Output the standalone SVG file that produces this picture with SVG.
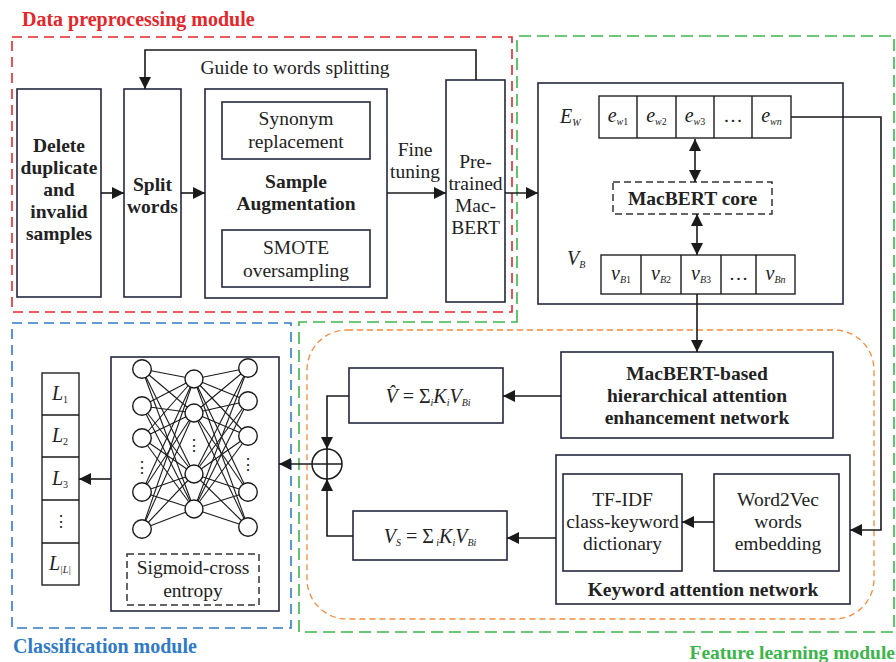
<svg xmlns="http://www.w3.org/2000/svg" width="896" height="662" viewBox="0 0 896 662">
<style>
text{font-family:"Liberation Serif","Times New Roman",serif;fill:#222;}
.b{font-weight:bold;font-size:19.5px;}
.r{font-size:19.5px;}
.mod{font-weight:bold;font-size:20px;}
.box{fill:#fff;stroke:#23263f;stroke-width:1.6;}
.dbox{fill:#fff;stroke:#333;stroke-width:1.5;stroke-dasharray:7,4;}
.cell{fill:#fff;stroke:#222;stroke-width:1.4;}
.ln{fill:none;stroke:#1a1a1a;stroke-width:1.6;}
.arr{fill:none;stroke:#1a1a1a;stroke-width:1.6;marker-end:url(#ah);}
.darr{fill:none;stroke:#1a1a1a;stroke-width:1.6;marker-end:url(#ah);marker-start:url(#ah);}
.m{font-style:italic;font-size:20px;}
.s{font-size:10px;}
.si{font-size:10px;font-style:italic;}
.nn line{stroke:#1a1a1a;stroke-width:1.1;}
.nn circle{fill:#fff;stroke:#1a1a1a;stroke-width:1.4;}
</style>
<defs>
<marker id="ah" viewBox="0 0 10 10" refX="10" refY="5" markerWidth="12" markerHeight="12" markerUnits="userSpaceOnUse" orient="auto-start-reverse">
<path d="M0,0 L10,5 L0,10 z" fill="#1a1a1a"/>
</marker>
</defs>
<rect width="896" height="662" fill="#fff"/>

<!-- module frames -->
<g id="modules">
<rect x="12" y="37" width="500" height="275" fill="none" stroke="#e5262a" stroke-width="1.6" stroke-dasharray="10,6"/>
<text x="22" y="26" class="mod" style="fill:#e5262a">Data preprocessing module</text>
<path d="M517,322 V36 H894 V632 H299 V322 Z" fill="none" stroke="#3cb54a" stroke-width="1.6" stroke-dasharray="12,6"/>
<text x="895" y="659" class="mod" text-anchor="end" style="fill:#3cb54a;font-size:19.5px">Feature learning module</text>
<rect x="12" y="323" width="279" height="305" fill="none" stroke="#2f7ac6" stroke-width="1.6" stroke-dasharray="10,6"/>
<text x="13" y="653" class="mod" style="fill:#2f7ac6">Classification module</text>
<rect x="307" y="330" width="567" height="289" rx="40" ry="40" fill="none" stroke="#f28c3a" stroke-width="1.3" stroke-dasharray="6,4"/>
</g>

<g id="delete">
<rect class="box" x="17" y="89" width="84" height="208"/>
<text class="b" text-anchor="middle" x="59" y="152">Delete</text>
<text class="b" text-anchor="middle" x="59" y="174">duplicate</text>
<text class="b" text-anchor="middle" x="59" y="196">and</text>
<text class="b" text-anchor="middle" x="59" y="218">invalid</text>
<text class="b" text-anchor="middle" x="59" y="240">samples</text>
</g>

<g id="split">
<rect class="box" x="124" y="89" width="57" height="208"/>
<text class="b" text-anchor="middle" x="152.5" y="191">Split</text>
<text class="b" text-anchor="middle" x="152.5" y="213">words</text>
</g>

<g id="augmentation">
<rect class="box" x="205" y="89" width="182" height="209"/>
<text class="b" text-anchor="middle" x="296" y="188">Sample</text>
<text class="b" text-anchor="middle" x="296" y="210">Augmentation</text>
</g>
<g id="synonym">
<rect class="box" x="222" y="102" width="148" height="57"/>
<text class="r" text-anchor="middle" x="296" y="125">Synonym</text>
<text class="r" text-anchor="middle" x="296" y="148">replacement</text>
</g>
<g id="smote">
<rect class="box" x="222" y="230" width="148" height="57"/>
<text class="r" text-anchor="middle" x="296" y="254">SMOTE</text>
<text class="r" text-anchor="middle" x="296" y="277">oversampling</text>
</g>

<g id="pretrained">
<rect class="box" x="446" y="80" width="59" height="222"/>
<text class="r" text-anchor="middle" x="475.5" y="168">Pre-</text>
<text class="r" text-anchor="middle" x="475.5" y="190">trained</text>
<text class="r" text-anchor="middle" x="475.5" y="212">Mac-</text>
<text class="r" text-anchor="middle" x="475.5" y="234">BERT</text>
</g>

<g id="macbert">
<rect class="box" x="538" y="83" width="305" height="221"/>
<text x="560" y="123"><tspan class="m">E</tspan><tspan class="si" dy="3">W</tspan></text>
<text x="567" y="265"><tspan class="m">V</tspan><tspan class="si" dy="3">B</tspan></text>
</g>
<g id="ew">
<rect class="cell" x="599" y="96" width="192" height="42"/>
<path class="ln" d="M637,96 V138 M676,96 V138 M714,96 V138 M752,96 V138" style="stroke-width:1.4"/>
<text x="618" y="122" text-anchor="middle"><tspan class="m">e</tspan><tspan class="si" dy="3">w</tspan><tspan class="s">1</tspan></text>
<text x="656.5" y="122" text-anchor="middle"><tspan class="m">e</tspan><tspan class="si" dy="3">w</tspan><tspan class="s">2</tspan></text>
<text x="695" y="122" text-anchor="middle"><tspan class="m">e</tspan><tspan class="si" dy="3">w</tspan><tspan class="s">3</tspan></text>
<text x="733" y="122" text-anchor="middle" class="r">…</text>
<text x="771.5" y="122" text-anchor="middle"><tspan class="m">e</tspan><tspan class="si" dy="3">wn</tspan></text>
</g>
<g id="core">
<rect class="dbox" x="613" y="182" width="159" height="32"/>
<text class="b" text-anchor="middle" x="692.5" y="205">MacBERT core</text>
</g>
<g id="vb">
<rect class="cell" x="601" y="255" width="194" height="39"/>
<path class="ln" d="M641,255 V294 M681,255 V294 M721,255 V294 M756,255 V294" style="stroke-width:1.4"/>
<text x="621" y="280" text-anchor="middle"><tspan class="m">v</tspan><tspan class="si" dy="3">B</tspan><tspan class="s">1</tspan></text>
<text x="661" y="280" text-anchor="middle"><tspan class="m">v</tspan><tspan class="si" dy="3">B</tspan><tspan class="s">2</tspan></text>
<text x="701" y="280" text-anchor="middle"><tspan class="m">v</tspan><tspan class="si" dy="3">B</tspan><tspan class="s">3</tspan></text>
<text x="738.5" y="280" text-anchor="middle" class="r">…</text>
<text x="775.5" y="280" text-anchor="middle"><tspan class="m">v</tspan><tspan class="si" dy="3">Bn</tspan></text>
</g>

<g id="hier">
<rect class="box" x="561" y="352" width="272" height="86"/>
<text class="b" text-anchor="middle" x="697" y="380">MacBERT-based</text>
<text class="b" text-anchor="middle" x="697" y="402">hierarchical attention</text>
<text class="b" text-anchor="middle" x="697" y="424">enhancement network</text>
</g>

<g id="keyword">
<rect class="box" x="556" y="455" width="294" height="149"/>
<text class="b" text-anchor="middle" x="703" y="596">Keyword attention network</text>
</g>
<g id="tfidf">
<rect class="box" x="563" y="474" width="119" height="97"/>
<text class="r" text-anchor="middle" x="622.5" y="506">TF-IDF</text>
<text class="r" text-anchor="middle" x="622.5" y="528">class-keyword</text>
<text class="r" text-anchor="middle" x="622.5" y="550">dictionary</text>
</g>
<g id="word2vec">
<rect class="box" x="714" y="474" width="125" height="97"/>
<text class="r" text-anchor="middle" x="778" y="506">Word2Vec</text>
<text class="r" text-anchor="middle" x="778" y="528">words</text>
<text class="r" text-anchor="middle" x="778" y="550">embedding</text>
</g>

<g id="vhat">
<rect class="box" x="349" y="368" width="154" height="55"/>
<text x="428" y="403" text-anchor="middle" style="font-size:20px"><tspan font-style="italic">V̂</tspan> = Σ<tspan class="si" dy="3">i</tspan><tspan font-style="italic" dy="-3">K</tspan><tspan class="si" dy="3">i</tspan><tspan font-style="italic" dy="-3">V</tspan><tspan class="si" dy="3">Bi</tspan></text>
</g>
<g id="vs">
<rect class="box" x="353" y="511" width="154" height="49"/>
<text x="430" y="543" text-anchor="middle" style="font-size:20px"><tspan font-style="italic">V</tspan><tspan class="si" dy="3">S</tspan><tspan dy="-3"> = Σ</tspan><tspan class="si" dy="3"> i</tspan><tspan font-style="italic" dy="-3">K</tspan><tspan class="si" dy="3">i</tspan><tspan font-style="italic" dy="-3">V</tspan><tspan class="si" dy="3">Bi</tspan></text>
</g>

<g id="plus">
<circle cx="327" cy="464" r="15" fill="#fff" stroke="#1a1a1a" stroke-width="1.5"/>
<path class="ln" d="M312,464 H342 M327,449 V479"/>
</g>

<g id="nn">
<rect class="box" x="111" y="357" width="168" height="254"/>
<g class="nn">
<g id="edges1">
<line x1="142" y1="369" x2="194" y2="379"/><line x1="142" y1="369" x2="194" y2="413"/><line x1="142" y1="369" x2="194" y2="474"/><line x1="142" y1="369" x2="194" y2="509"/>
<line x1="142" y1="406" x2="194" y2="379"/><line x1="142" y1="406" x2="194" y2="413"/><line x1="142" y1="406" x2="194" y2="474"/><line x1="142" y1="406" x2="194" y2="509"/>
<line x1="142" y1="438" x2="194" y2="379"/><line x1="142" y1="438" x2="194" y2="413"/><line x1="142" y1="438" x2="194" y2="474"/><line x1="142" y1="438" x2="194" y2="509"/>
<line x1="142" y1="492" x2="194" y2="379"/><line x1="142" y1="492" x2="194" y2="413"/><line x1="142" y1="492" x2="194" y2="474"/><line x1="142" y1="492" x2="194" y2="509"/>
<line x1="142" y1="529" x2="194" y2="379"/><line x1="142" y1="529" x2="194" y2="413"/><line x1="142" y1="529" x2="194" y2="474"/><line x1="142" y1="529" x2="194" y2="509"/>
</g>
<g id="edges2">
<line x1="194" y1="379" x2="248" y2="368"/><line x1="194" y1="379" x2="248" y2="401"/><line x1="194" y1="379" x2="248" y2="436"/><line x1="194" y1="379" x2="248" y2="492"/><line x1="194" y1="379" x2="248" y2="527"/>
<line x1="194" y1="413" x2="248" y2="368"/><line x1="194" y1="413" x2="248" y2="401"/><line x1="194" y1="413" x2="248" y2="436"/><line x1="194" y1="413" x2="248" y2="492"/><line x1="194" y1="413" x2="248" y2="527"/>
<line x1="194" y1="474" x2="248" y2="368"/><line x1="194" y1="474" x2="248" y2="401"/><line x1="194" y1="474" x2="248" y2="436"/><line x1="194" y1="474" x2="248" y2="492"/><line x1="194" y1="474" x2="248" y2="527"/>
<line x1="194" y1="509" x2="248" y2="368"/><line x1="194" y1="509" x2="248" y2="401"/><line x1="194" y1="509" x2="248" y2="436"/><line x1="194" y1="509" x2="248" y2="492"/><line x1="194" y1="509" x2="248" y2="527"/>
</g>
<circle cx="142" cy="369" r="9.3"/><circle cx="142" cy="406" r="9.3"/><circle cx="142" cy="438" r="9.3"/><circle cx="142" cy="492" r="9.3"/><circle cx="142" cy="529" r="9.3"/>
<circle cx="194" cy="379" r="9"/><circle cx="194" cy="413" r="9"/><circle cx="194" cy="474" r="9"/><circle cx="194" cy="509" r="9"/>
<circle cx="248" cy="368" r="9.3"/><circle cx="248" cy="401" r="9.3"/><circle cx="248" cy="436" r="9.3"/><circle cx="248" cy="492" r="9.3"/><circle cx="248" cy="527" r="9.3"/>
</g>
<text x="142" y="473" text-anchor="middle" style="font-family:'DejaVu Serif',serif;font-size:16px">⋮</text>
<text x="194" y="451" text-anchor="middle" style="font-family:'DejaVu Serif',serif;font-size:16px">⋮</text>
<text x="248" y="470" text-anchor="middle" style="font-family:'DejaVu Serif',serif;font-size:16px">⋮</text>
</g>
<g id="sigmoid">
<rect class="dbox" x="127" y="554" width="132" height="51"/>
<text class="r" text-anchor="middle" x="193" y="574">Sigmoid-cross</text>
<text class="r" text-anchor="middle" x="193" y="597">entropy</text>
</g>

<g id="labels">
<rect class="cell" x="42" y="373" width="37" height="212"/>
<path class="ln" d="M42,415 H79 M42,457 H79 M42,500 H79 M42,543 H79" style="stroke-width:1.4"/>
<text x="60" y="400" text-anchor="middle"><tspan class="m">L</tspan><tspan class="s" dy="3">1</tspan></text>
<text x="60" y="442" text-anchor="middle"><tspan class="m">L</tspan><tspan class="s" dy="3">2</tspan></text>
<text x="60" y="485" text-anchor="middle"><tspan class="m">L</tspan><tspan class="s" dy="3">3</tspan></text>
<text x="60.5" y="527" text-anchor="middle" style="font-family:'DejaVu Serif',serif;font-size:16px">⋮</text>
<text x="60" y="570" text-anchor="middle"><tspan class="m">L</tspan><tspan class="si" dy="3">|L|</tspan></text>
</g>

<!-- connectors -->
<g id="connectors">
<path class="arr" d="M101,193 H124"/>
<path class="arr" d="M181,193 H205"/>
<path class="arr" d="M387,193 H446"/>
<path class="arr" d="M476,80 V50 H145 V89"/>
<path class="arr" d="M505,193 H538"/>
<path class="darr" d="M695,139 V182"/>
<path class="darr" d="M697,214 V255"/>
<path class="arr" d="M697,294 V352"/>
<path class="arr" d="M791,117 H881 V530 H850"/>
<path class="arr" d="M561,396 H503"/>
<path class="arr" d="M556,538 H507"/>
<path class="arr" d="M714,522 H682"/>
<path class="arr" d="M349,396 H327 V449"/>
<path class="arr" d="M353,536 H327 V479"/>
<path class="arr" d="M312,464 H279"/>
<path class="arr" d="M111,479 H79"/>
<text x="295" y="74" class="r" text-anchor="middle">Guide to words splitting</text>
<text x="415" y="156" class="r" text-anchor="middle">Fine</text>
<text x="415" y="178" class="r" text-anchor="middle">tuning</text>
</g>
</svg>
